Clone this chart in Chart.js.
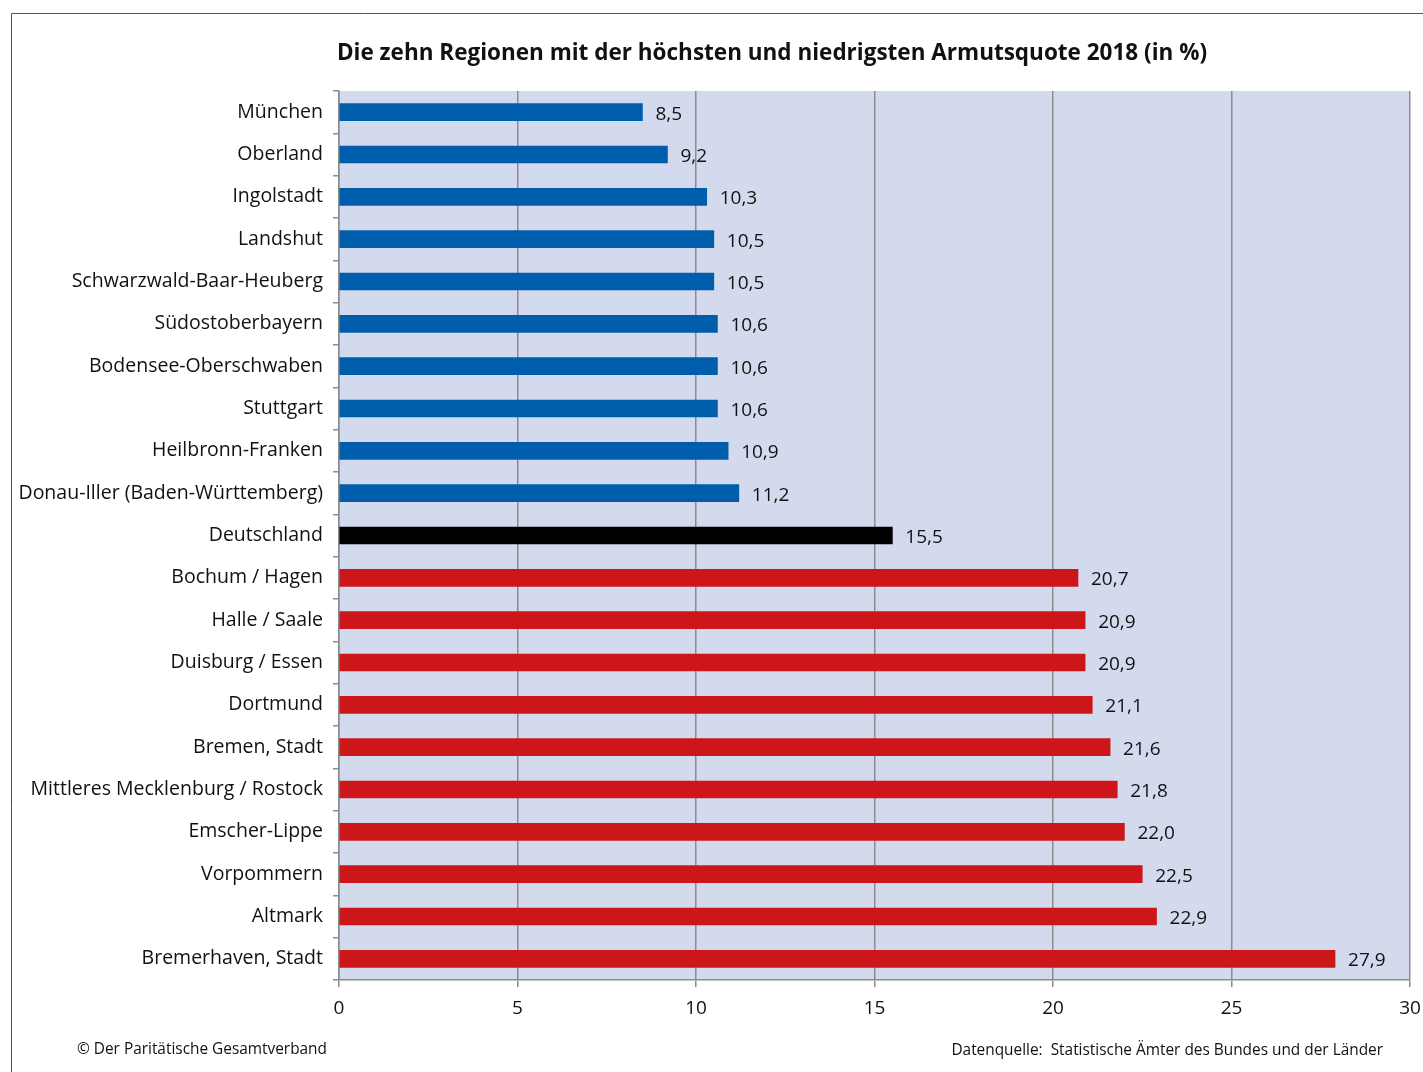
<!DOCTYPE html>
<html>
<head>
<meta charset="utf-8">
<script src="https://cdn.jsdelivr.net/npm/chart.js@4.4.1/dist/chart.umd.min.js"></script>
<style>
    body { margin: 0; background: #fff; }
    #chart { display: block; }
</style>
</head>
<body>
<canvas id="chart" width="1423" height="1072"></canvas>
<script>
// Regions, sorted as shown (lowest rates, Germany, highest rates)
const regions = [
    "München", "Oberland", "Ingolstadt", "Landshut", "Schwarzwald-Baar-Heuberg",
    "Südostoberbayern", "Bodensee-Oberschwaben", "Stuttgart", "Heilbronn-Franken",
    "Donau-Iller (Baden-Württemberg)", "Deutschland", "Bochum / Hagen", "Halle / Saale",
    "Duisburg / Essen", "Dortmund", "Bremen, Stadt", "Mittleres Mecklenburg / Rostock",
    "Emscher-Lippe", "Vorpommern", "Altmark", "Bremerhaven, Stadt"
];
const rates = [
    8.5, 9.2, 10.3, 10.5, 10.5, 10.6, 10.6, 10.6, 10.9, 11.2,
    15.5,
    20.7, 20.9, 20.9, 21.1, 21.6, 21.8, 22.0, 22.5, 22.9, 27.9
];
// "low", "de" or "high" for each region
const groups = [
    "low", "low", "low", "low", "low", "low", "low", "low", "low", "low",
    "de",
    "high", "high", "high", "high", "high", "high", "high", "high", "high", "high"
];
const xTicks = [0, 5, 10, 15, 20, 25, 30];

const titleText = "Die zehn Regionen mit der höchsten und niedrigsten Armutsquote 2018 (in %)";
const copyrightText = "© Der Paritätische Gesamtverband";
const sourceText = "Datenquelle:  Statistische Ämter des Bundes und der Länder";

const groupColors = { low: "#005dac", de: "#000000", high: "#cd1619" };
const FONT = "'Open Sans', 'Noto Sans', sans-serif";

const decorPlugin = {
    id: "decor",
    beforeDraw(chart) {
        const { ctx, chartArea } = chart;
        ctx.save();
        ctx.fillStyle = "#ffffff";
        ctx.fillRect(0, 0, chart.width, chart.height);
        ctx.fillStyle = "#d4daee";
        ctx.fillRect(chartArea.left, chartArea.top,
            chartArea.right - chartArea.left, chartArea.bottom - chartArea.top);
        // outer frame (left and top edges)
        ctx.strokeStyle = "#555555";
        ctx.lineWidth = 1;
        ctx.beginPath();
        ctx.moveTo(11.5, chart.height);
        ctx.lineTo(11.5, 13.5);
        ctx.lineTo(chart.width, 13.5);
        ctx.stroke();
        ctx.restore();
    },
    afterDraw(chart) {
        const { ctx } = chart;
        const xScale = chart.scales.x;
        const meta = chart.getDatasetMeta(0);
        ctx.save();
        // title
        ctx.fillStyle = "#111111";
        ctx.font = "bold 22.5px " + FONT;
        ctx.textAlign = "center";
        ctx.textBaseline = "middle";
        ctx.fillText(titleText, 772, 54);
        // value labels
        ctx.font = "19px " + FONT;
        ctx.textAlign = "left";
        meta.data.forEach((bar, i) => {
            const x = xScale.getPixelForValue(rates[i]) + 13;
            ctx.fillText(rates[i].toFixed(1).replace(".", ","), x, bar.y + 2);
        });
        // footer
        ctx.font = "15.4px " + FONT;
        ctx.fillText(copyrightText, 77, 1050);
        ctx.textAlign = "right";
        ctx.fillText(sourceText, 1383, 1051);
        ctx.restore();
    }
};

new Chart(document.getElementById("chart"), {
    type: "bar",
    data: {
        labels: regions,
        datasets: [{
            data: rates,
            backgroundColor: groups.map(g => groupColors[g]),
            barThickness: 17,
            borderWidth: 0
        }]
    },
    options: {
        indexAxis: "y",
        responsive: false,
        animation: false,
        layout: { padding: { top: 91, right: 0, left: 0, bottom: 0 } },
        plugins: {
            legend: { display: false },
            tooltip: { enabled: false }
        },
        scales: {
            x: {
                min: 0,
                max: 30,
                afterFit(scale) {
                    scale.height = 92;
                    scale.paddingRight = 13;
                },
                afterBuildTicks(scale) {
                    scale.ticks = xTicks.map(v => ({ value: v }));
                },
                grid: {
                    color: "#8c8c8c",
                    lineWidth: 1.5,
                    tickLength: 7,
                    drawTicks: true
                },
                border: { color: "#8c8c8c", width: 1.5 },
                ticks: {
                    color: "#111111",
                    font: { family: FONT, size: 19 },
                    padding: 10
                }
            },
            y: {
                afterFit(scale) { scale.width = 339; },
                grid: {
                    drawOnChartArea: false,
                    color: "#8c8c8c",
                    lineWidth: 1.5,
                    tickLength: 6
                },
                border: { color: "#8c8c8c", width: 1.5 },
                ticks: {
                    color: "#111111",
                    font: { family: FONT, size: 19.5 },
                    padding: 10,
                    autoSkip: false
                }
            }
        }
    },
    plugins: [decorPlugin]
});
</script>
</body>
</html>
